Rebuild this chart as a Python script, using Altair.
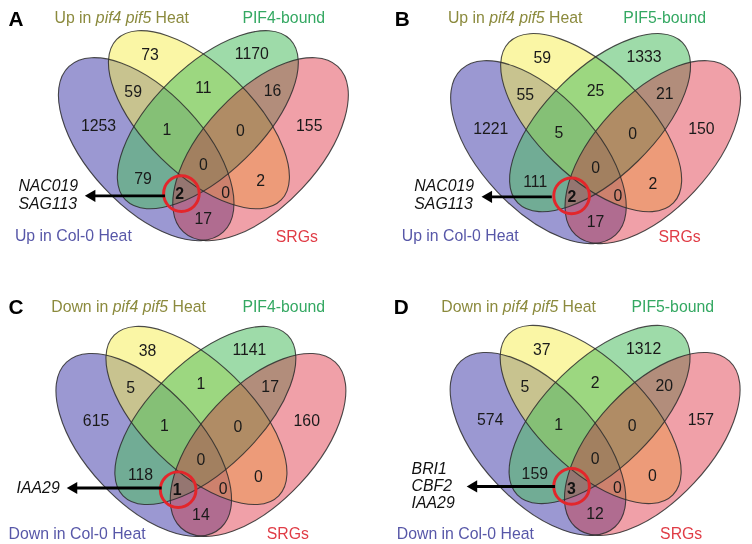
import altair as alt
import pandas as pd

# ---------------- data ----------------
panels = ["A", "B", "C", "D"]
regions = ["P", "Y", "G", "R", "PY", "YG", "GR", "PG", "PR", "YR",
           "PYG", "YGR", "PGR", "PYR", "PYGR"]
counts_A = [1253, 73, 1170, 155, 59, 11, 16, 79, 17, 2, 1, 0, 2, 0, 0]
counts_B = [1221, 59, 1333, 150, 55, 25, 21, 111, 17, 2, 5, 0, 2, 0, 0]
counts_C = [615, 38, 1141, 160, 5, 1, 17, 118, 14, 0, 1, 0, 1, 0, 0]
counts_D = [574, 37, 1312, 157, 5, 2, 20, 159, 12, 0, 1, 0, 3, 0, 0]
highlight_region = "PGR"
genes_A = ["NAC019", "SAG113"]
genes_B = ["NAC019", "SAG113"]
genes_C = ["IAA29"]
genes_D = ["BRI1", "CBF2", "IAA29"]
label_col0 = ["Up in Col-0 Heat", "Up in Col-0 Heat", "Down in Col-0 Heat", "Down in Col-0 Heat"]
label_pif_prefix = ["Up in", "Up in", "Down in", "Down in"]
label_pif_italic = "pif4 pif5"
label_pif_suffix = "Heat"
label_bound = ["PIF4-bound", "PIF5-bound", "PIF4-bound", "PIF5-bound"]
label_srg = "SRGs"

counts = dict(zip(panels, [counts_A, counts_B, counts_C, counts_D]))
genes = dict(zip(panels, [genes_A, genes_B, genes_C, genes_D]))

# ---------------- layout (page px) ----------------
ANCHOR = {"A": (205.5, 0), "B": (602, 3), "C": (203, 299), "D": (601.5, 298)}
REGION_OFFSET = {
    "P": (-106, 124), "Y": (-54, 53), "G": (49, 52), "R": (107, 124),
    "PY": (-71, 90), "YG": (0, 86.5), "GR": (70, 89.5), "PG": (-61, 178.5),
    "PR": (0, 218.5), "YR": (58, 180.5), "PYG": (-37, 128.5), "YGR": (37.5, 129.5),
    "PGR": (-24, 193), "PYR": (22.5, 192.5), "PYGR": (0, 163.5)}
# set: dx from axis, cy, semi-major, semi-minor, angle, fill, fill opacity (drawn in this order)
ELLIPSES = [
    ("P", -57.8, 147.8, 114.4, 57.8, 47.0, "#3731a5", 0.5),
    ("Y", -4.5, 118.0, 116.2, 54.5, 44.3, "#f5ed4b", 0.5),
    ("G", 4.5, 118.0, 116.2, 54.5, 315.7, "#4fbe62", 0.55),
    ("R", 57.8, 147.8, 114.4, 57.8, 313.0, "#e26d7c", 0.35),
]
R_MULTIPLY = "#fac8cd"  # second pass of the SRG ellipse, multiplied
# letter: x (left), y (baseline)
LETTER_POS = {"A": (8.5, 23.5), "B": (399, 23.5), "C": (8.5, 314), "D": (398, 314)}
TITLE_POS = {"A": (55, 20), "B": (452.7, 20), "C": (51.7, 312.5), "D": (446, 312.5)}
PREFIX_W = {"Up in": 41.8, "Down in": 62.2}
ITALIC_W = 56.0
SPACE_W = 4.4
BOUND_POS = {"A": (286.7, 20), "B": (671.8, 20), "C": (286.7, 312.5), "D": (680, 312.5)}
COL0_POS = {"A": (15, 240.5), "B": (406, 240.5), "C": (8.5, 542), "D": (401, 542)}
SRG_POS = {"A": (300, 242), "B": (686.8, 242), "C": (290.8, 542), "D": (688.5, 542)}
GENE_POS = {"A": (18.5, 185, 18.3), "B": (418.7, 185, 18.3), "C": (16.7, 490.3, 0), "D": (416, 471.3, 17)}
ARROW = {"A": (166.7, 85, 195), "B": (557.7, 486, 196), "C": (163.3, 66.7, 490.3), "D": (561, 471, 488.7)}
CIRCLE = {"A": (183.3, 192.7), "B": (577.7, 195), "C": (180, 492), "D": (577.7, 488.7)}

C_TITLE = "#8b8a3d"
C_BOUND = "#34a862"
C_COL0 = "#5757a8"
C_SRG = "#e03c46"
FONT = "Liberation Sans"


def ellipse_path(r):
    k = 0.5523
    return (f"M1,0 C1,{k*r:.4f} {k:.4f},{r:.4f} 0,{r:.4f} "
            f"C{-k:.4f},{r:.4f} -1,{k*r:.4f} -1,0 "
            f"C-1,{-k*r:.4f} {-k:.4f},{-r:.4f} 0,{-r:.4f} "
            f"C{k:.4f},{-r:.4f} 1,{-k*r:.4f} 1,0 Z")


def ell_row(ax, dy, spec, order):
    s, dx, cy, a, b, ang, col, op = spec
    return {"set": s, "x": ax + dx, "y": cy + dy, "shape": ellipse_path(b / a), "size": (2 * a) ** 2,
            "angle": ang, "fill": col, "fop": op, "order": order}


ell_rows, num_rows, bold_rows, gene_rows = [], [], [], []
txt_rows, ital_rows, letter_rows, arrow_rows, head_rows, circ_rows = [], [], [], [], [], []
for i, p in enumerate(panels):
    ax, dy = ANCHOR[p]
    for spec in ELLIPSES:
        ell_rows.append(ell_row(ax, dy, spec, len(ell_rows)))
    for reg, c in zip(regions, counts[p]):
        ox, oy = REGION_OFFSET[reg]
        row = {"x": ax + ox, "y": oy + dy, "text": str(c)}
        (bold_rows if reg == highlight_region else num_rows).append(row)
    gx, gy, gs = GENE_POS[p]
    for j, g in enumerate(genes[p]):
        gene_rows.append({"x": gx, "y": gy + j * gs, "text": g})
    lx, ly = LETTER_POS[p]
    letter_rows.append({"x": lx, "y": ly, "text": p})
    tx, ty = TITLE_POS[p]
    pre = label_pif_prefix[i]
    txt_rows.append({"x": tx, "y": ty, "text": pre, "color": C_TITLE, "align": "left"})
    ital_rows.append({"x": tx + PREFIX_W[pre], "y": ty, "text": label_pif_italic, "color": C_TITLE})
    txt_rows.append({"x": tx + PREFIX_W[pre] + ITALIC_W + SPACE_W, "y": ty, "text": label_pif_suffix,
                     "color": C_TITLE, "align": "left"})
    bx, by = BOUND_POS[p]
    txt_rows.append({"x": bx, "y": by, "text": label_bound[i], "color": C_BOUND, "align": "center"})
    cx, cy0 = COL0_POS[p]
    txt_rows.append({"x": cx, "y": cy0, "text": label_col0[i], "color": C_COL0, "align": "left"})
    sx, sy = SRG_POS[p]
    txt_rows.append({"x": sx, "y": sy, "text": label_srg, "color": C_SRG, "align": "center"})
    x0, x1, yy = ARROW[p]
    arrow_rows.append({"x": x0, "x2": x1 + 8, "y": yy})
    head_rows.append({"x": x1 + 6, "y": yy})
    ccx, ccy = CIRCLE[p]
    circ_rows.append({"x": ccx, "y": ccy})

W, H = 744, 536
xs = alt.Scale(domain=[8, 8 + W])
ys = alt.Scale(domain=[8 + H, 8])


def X(f="x"):
    return alt.X(f"{f}:Q", scale=xs, axis=None)


def Y(f="y"):
    return alt.Y(f"{f}:Q", scale=ys, axis=None)


def ell_enc():
    return dict(x=X(), y=Y(), shape=alt.Shape("shape:N", scale=None), size=alt.Size("size:Q", scale=None),
                angle=alt.Angle("angle:Q", scale=None))


ell_df = pd.DataFrame(ell_rows)
r_df = ell_df[ell_df["set"] == "R"]
fills = alt.Chart(ell_df).mark_point(filled=True, opacity=1, strokeWidth=0).encode(
    fill=alt.Fill("fill:N", scale=None), fillOpacity=alt.FillOpacity("fop:Q", scale=None),
    order=alt.Order("order:Q"), **ell_enc())
r_mult = alt.Chart(r_df).mark_point(filled=True, opacity=1, strokeWidth=0, blend="multiply",
                                    fill=R_MULTIPLY).encode(**ell_enc())
outlines = alt.Chart(ell_df).mark_point(filled=False, opacity=1, color="#2b2b2b", strokeWidth=1.1,
                                        strokeOpacity=0.85).encode(**ell_enc())

nums = alt.Chart(pd.DataFrame(num_rows)).mark_text(font=FONT, fontSize=16, color="#1a1a1a",
                                                    baseline="middle").encode(x=X(), y=Y(), text="text:N")
bolds = alt.Chart(pd.DataFrame(bold_rows)).mark_text(font=FONT, fontSize=16, fontWeight="bold", color="#111",
                                                      baseline="middle").encode(x=X(), y=Y(), text="text:N")
circles = alt.Chart(pd.DataFrame(circ_rows)).mark_point(shape="circle", filled=False, size=36 ** 2,
                                                         color="#e3262b", strokeWidth=3, opacity=1).encode(x=X(), y=Y())
arrows = alt.Chart(pd.DataFrame(arrow_rows)).mark_rule(color="#000", strokeWidth=3).encode(
    x=X(), x2="x2:Q", y=Y())
heads = alt.Chart(pd.DataFrame(head_rows)).mark_point(shape="triangle-left", filled=True, size=150,
                                                       color="#000", opacity=1).encode(x=X(), y=Y())
gene_txt = alt.Chart(pd.DataFrame(gene_rows)).mark_text(font=FONT, fontSize=16, fontStyle="italic", align="left",
                                                         baseline="middle", color="#111").encode(x=X(), y=Y(), text="text:N")
letters = alt.Chart(pd.DataFrame(letter_rows)).mark_text(font=FONT, fontSize=21, fontWeight="bold", align="left",
                                                          baseline="alphabetic", color="#000").encode(x=X(), y=Y(), text="text:N")
txt_df = pd.DataFrame(txt_rows)
left_txt = alt.Chart(txt_df[txt_df["align"] == "left"]).mark_text(font=FONT, fontSize=16, align="left",
                                                                   baseline="alphabetic").encode(
    x=X(), y=Y(), text="text:N", color=alt.Color("color:N", scale=None))
center_txt = alt.Chart(txt_df[txt_df["align"] == "center"]).mark_text(font=FONT, fontSize=16, align="center",
                                                                       baseline="alphabetic").encode(
    x=X(), y=Y(), text="text:N", color=alt.Color("color:N", scale=None))
ital_txt = alt.Chart(pd.DataFrame(ital_rows)).mark_text(font=FONT, fontSize=16, fontStyle="italic", align="left",
                                                         baseline="alphabetic").encode(
    x=X(), y=Y(), text="text:N", color=alt.Color("color:N", scale=None))

chart = alt.layer(fills, r_mult, outlines, nums, bolds, circles, arrows, heads, gene_txt, letters,
                  left_txt, center_txt, ital_txt).properties(
    width=W, height=H, padding=0, autosize="none").configure_view(stroke=None)

chart.save("out.html", embed_options={"renderer": "svg", "actions": False})
